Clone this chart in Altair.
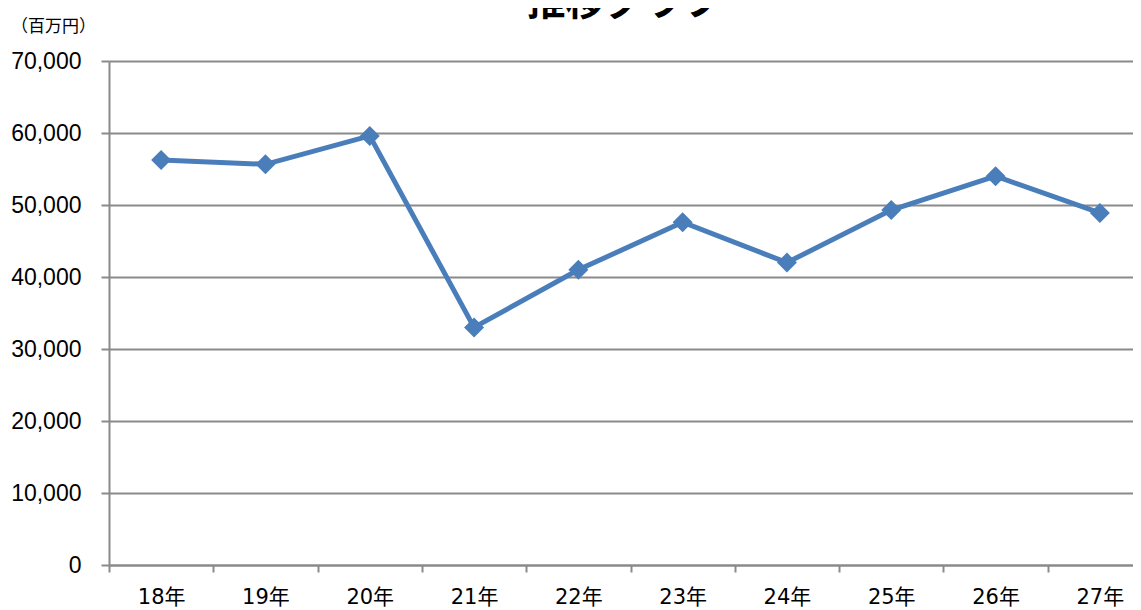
import altair as alt
import pandas as pd

years = ["18年", "19年", "20年", "21年", "22年", "23年", "24年", "25年", "26年", "27年"]
values = [56250, 55650, 59600, 33000, 41000, 47600, 42000, 49300, 54000, 48900]
title_text = ["推移グラフ"]
unit_text = ["（百万円）"]
y_ticks = [0, 10000, 20000, 30000, 40000, 50000, 60000, 70000]

df = pd.DataFrame({"year": years, "value": values})

FONT = "Noto Sans CJK JP"
XFONT = "DejaVu Sans, Noto Sans CJK JP"
NUMFONT = "Liberation Sans"
GRAY = "#8a8a8a"
BLUE = "#4A7EBB"

x_enc = alt.X(
    "year:N",
    sort=years,
    scale=alt.Scale(range=[0, 1043], paddingInner=0, paddingOuter=0),
    axis=alt.Axis(
        title=None,
        labelAngle=0,
        labelFont=XFONT,
        labelFontSize=21,
        labelColor="#000000",
        labelPadding=14,
        tickBand="extent",
        tickSize=7,
        tickColor=GRAY,
        tickWidth=2,
        domainColor=GRAY,
        domainWidth=2,
        grid=False,
    ),
)
y_enc = alt.Y(
    "value:Q",
    scale=alt.Scale(domain=[0, 70000], nice=False),
    axis=alt.Axis(
        title=None,
        values=y_ticks,
        format=",d",
        labelFont=NUMFONT,
        labelFontSize=23,
        labelColor="#000000",
        labelPadding=20,
        tickSize=8,
        tickColor=GRAY,
        tickWidth=2,
        domainColor=GRAY,
        domainWidth=2,
        grid=True,
        gridColor=GRAY,
        gridWidth=2,
    ),
)

line = alt.Chart(df).mark_line(color=BLUE, strokeWidth=5).encode(x=x_enc, y=y_enc)
points = alt.Chart(df).mark_point(
    shape="diamond", filled=True, color=BLUE, size=400, opacity=1
).encode(x="year:N", y="value:Q")

title = alt.Chart(pd.DataFrame({"t": title_text})).mark_text(
    font=FONT, fontSize=39, fontWeight="bold", color="#000000",
    align="center", baseline="bottom"
).encode(text="t:N", x=alt.value(515), y=alt.value(-38))

unit = alt.Chart(pd.DataFrame({"t": unit_text})).mark_text(
    font=FONT, fontSize=17, color="#000000", align="left", baseline="middle"
).encode(text="t:N", x=alt.value(-98), y=alt.value(-34))

chart = alt.layer(line, points, title, unit).properties(
    width=1024,
    height=504,
    autosize=alt.AutoSizeParams(type="none"),
    padding={"left": 101, "top": 53, "right": 0, "bottom": 45},
).configure_view(
    stroke=None, fill="#EFF3F8"
).configure(background="#ffffff")

chart.save("out.html", embed_options={"renderer": "svg", "actions": False})
